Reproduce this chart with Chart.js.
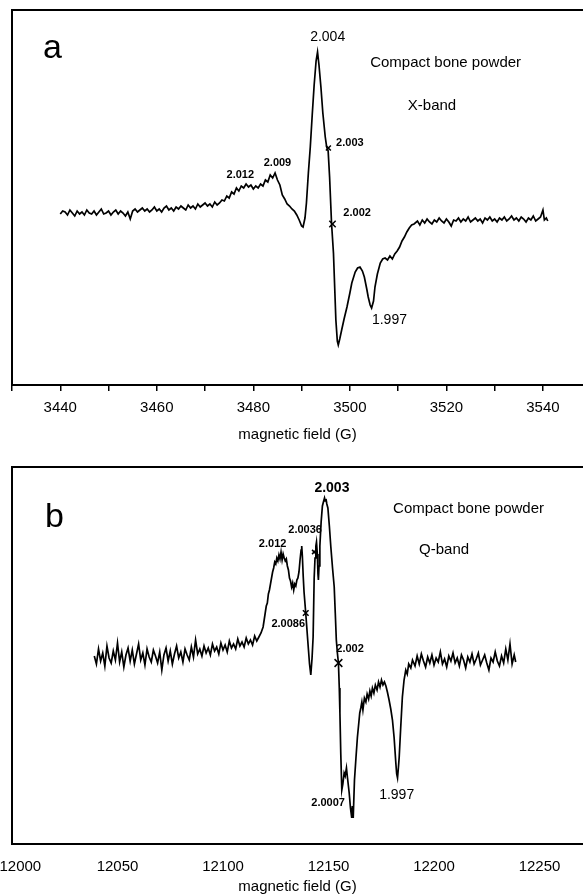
<!DOCTYPE html>
<html>
<head>
<meta charset="utf-8">
<script src="https://cdn.jsdelivr.net/npm/chart.js@4.4.1/dist/chart.umd.min.js"></script>
<style>
  html, body { margin: 0; padding: 0; background: #fff; overflow: hidden; }
  canvas { display: block; }
</style>
</head>
<body>
<canvas id="chartA" width="583" height="444"></canvas>
<canvas id="chartB" width="583" height="450"></canvas>
<script>
// Panel a: X-band spectrum (field in G, derivative signal in arbitrary units)
const fieldA = [
  3440,3440.5,
  3441,3441.5,3442,3442.5,3443,3443.5,3444,3444.5,3445,3445.5,
  3446,3446.5,3447,3447.5,3448,3448.5,3449,3449.5,3450,3450.5,
  3451,3451.5,3452,3452.5,3453,3453.5,3454,3454.5,3455,3455.5,
  3456,3456.5,3457,3457.5,3458,3458.5,3459,3459.5,3460,3460.5,
  3461,3461.5,3462,3462.5,3463,3463.5,3464,3464.5,3465,3465.5,
  3466,3466.5,3467,3467.5,3468,3468.5,3469,3469.5,3470,3470.5,
  3471,3471.5,3472,3472.5,3473,3473.5,3474,3474.5,3475,3475.5,
  3476,3476.5,3477,3477.5,3478,3478.5,3479,3479.5,3480,3480.5,
  3481,3481.5,3482,3482.5,3483,3483.5,3484,3484.5,3485,3485.5,
  3486,3486.5,3487,3487.5,3488,3488.5,3489,3489.5,3490,3490.3,
  3490.7,3491,3491.4,3491.8,3492.2,3492.6,3493,3493.3,3493.6,3494,
  3494.4,3494.9,3495.2,3495.5,3495.8,3496.2,3496.6,3497.1,3497.4,3497.6,
  3497.9,3498.3,3498.8,3499.4,3500,3500.4,3501.1,3501.6,3502.1,3502.6,
  3503,3503.5,3503.8,3504.2,3504.5,3504.9,3505.2,3505.7,3506.3,3506.8,
  3507.3,3507.8,3508.3,3508.8,3509.3,3509.8,3510.3,3510.8,3511.3,3511.8,
  3512.3,3512.8,3513.3,3514,3514.5,3515,3515.5,3516,3516.5,3517,
  3517.5,3518,3518.5,3519,3519.5,3520,3520.5,3521,3521.5,3522,
  3522.5,3523,3523.5,3524,3524.5,3525,3525.5,3526,3526.5,3527,
  3527.5,3528,3528.5,3529,3529.5,3530,3530.5,3531,3531.5,3532,
  3532.5,3533,3533.5,3534,3534.5,3535,3535.5,3536,3536.5,3537,
  3537.5,3538,3538.5,3539,3539.5,3540,3540.3,3540.7,3541
];
const signalA = [
  -1,2,
  1,-2,3,0,-3,2,-1,1,-2,3,
  0,-1,2,-2,1,4,-1,0,2,-2,
  1,3,-1,2,0,-3,1,-6,2,4,
  1,3,5,2,4,1,3,6,2,4,
  1,5,7,3,5,2,6,4,7,5,
  3,8,5,7,4,9,6,8,10,7,
  9,6,11,8,10,13,12,17,15,21,
  19,25,22,27,25,29,26,28,24,27,
  25,29,27,33,31,38,35,40,33,28,
  18,14,9,7,4,2,-2,-7,-13,-14,
  -5,10,40,66,98,128,152,161,148,126,
  100,76,66,62,36,-10,-40,-107,-128,-132,
  -126,-117,-106,-94,-80,-70,-59,-55,-54,-58,
  -64,-76,-84,-92,-95,-88,-74,-61,-50,-46,
  -45,-47,-43,-46,-41,-38,-34,-28,-24,-19,
  -15,-12,-11,-8,-12,-7,-10,-6,-9,-11,
  -7,-9,-5,-8,-10,-6,-9,-13,-7,-8,
  -5,-9,-6,-8,-4,-9,-7,-5,-8,-6,
  -10,-5,-7,-4,-8,-6,-9,-5,-7,-4,
  -8,-6,-3,-7,-5,-8,-4,-6,-9,-5,
  -7,-3,-8,-6,-4,3,-7,-5,-8
];
const markFieldA = [3495.55, 3496.4];
const markSignalA = [65, -11];

// Panel b: Q-band spectrum
const fieldB = [
  12039,12040,12041,12042,12043,12044,12045,12046,12047,12048,
  12049,12050,12051,12052,12053,12054,12055,12056,12057,12058,
  12059,12060,12061,12062,12063,12064,12065,12066,12067,12068,
  12069,12070,12071,12072,12073,12074,12075,12076,12077,12078,
  12079,12080,12081,12082,12083,12084,12085,12086,12087,12088,
  12089,12090,12091,12092,12093,12094,12095,12096,12097,12098,
  12099,12100,12101,12102,12103,12104,12105,12106,12107,12108,
  12109,12110,12111,12112,12113,12114,12115,12116,12117,12118,
  12119,12119.5,12120,12120.5,12121,12121.5,12122,12122.5,12123,12123.5,
  12124,12124.5,12125,12125.5,12126,12126.5,12127,12127.5,12128,12128.5,
  12129,12129.5,12130,12130.5,12131,12131.5,12132,12132.5,12133,12133.5,
  12134,12134.5,12135,12135.5,12136,12136.5,12137,12137.3,12137.6,12138,
  12138.4,12139.2,12140,12140.5,12141,12141.6,12142.2,12142.7,12143.2,12143.6,
  12144,12144.3,12144.7,12145,12145.2,12145.5,12145.9,12146.5,12147.1,12147.7,
  12148.1,12148.4,12148.8,12149.2,12149.7,12150.4,12151.1,12151.9,12152.7,12153.2,
  12153.7,12154.2,12154.7,12155.1,12155.4,12155.8,12156.3,12156.8,12157.4,12157.9,
  12158.5,12159,12159.8,12160.4,12161,12161.3,12161.7,12162.3,12163,12163.7,
  12164.3,12164.8,12165.3,12165.8,12166.3,12167,12167.7,12168.3,12169,12169.6,
  12170.2,12170.8,12171.5,12172.2,12173,12173.7,12174.4,12175.1,12175.8,12176.5,
  12177.2,12177.9,12178.7,12179.5,12180.3,12181.1,12181.9,12182.3,12182.7,12183.1,
  12183.5,12184.2,12185,12185.8,12186.6,12187.3,12188,12189,12189.8,12191,
  12192,12193,12194,12195,12196,12197,12198,12199,12200,12201,
  12202,12203,12204,12205,12206,12207,12208,12209,12210,12211,
  12212,12213,12214,12215,12216,12217,12218,12219,12220,12221,
  12222,12223,12224,12225,12226,12227,12228,12229,12230,12231,
  12232,12233,12234,12235,12236,12237,12238,12238.7
];
const signalB = [
  2,-6,9,-3,5,-8,12,0,-5,7,
  -2,15,-4,6,-9,3,10,-3,8,-6,
  4,14,-2,5,-7,9,1,-4,8,2,
  -5,6,-12,3,10,-3,7,-6,4,12,
  0,6,-4,9,3,-2,11,1,18,4,
  9,2,12,5,10,3,14,7,11,4,
  15,8,13,6,17,10,14,9,19,12,
  16,11,20,14,18,13,22,17,21,25,
  31,38,45,52,55,64,68,74,80,86,
  90,96,94,100,97,103,99,106,98,104,
  100,97,99,92,88,80,77,71,75,68,
  74,72,78,80,86,98,108,112,102,82,
  66,45,22,8,-6,-17,0,21,80,100,
  112,116,104,84,78,92,112,136,152,157,
  160,157,159,154,150,132,111,90,71,45,
  18,5,-5,-30,-55,-95,-132,-126,-115,-118,
  -110,-120,-135,-150,-160,-148,-160,-122,-100,-79,
  -66,-55,-50,-44,-52,-40,-44,-36,-41,-33,
  -38,-30,-35,-27,-32,-24,-29,-22,-27,-24,
  -28,-34,-42,-51,-62,-80,-105,-116,-120,-110,
  -99,-70,-39,-22,-12,-16,-6,-10,-2,-8,
  2,-6,4,-3,-9,1,-5,3,-7,0,
  -4,6,-6,-1,-9,2,-3,5,-5,0,
  -8,3,-2,-10,1,-4,4,-6,-1,5,
  -7,-2,3,-5,-12,0,-4,6,-3,-8,
  2,-5,9,-2,14,-6,3,-4
];
const markFieldB = [12143.2, 12139.2, 12154.7];
const markSignalB = [106, 45, -5];

const FONT = '"Liberation Sans", Arial, Helvetica, sans-serif';
Chart.defaults.font.family = FONT;
Chart.defaults.color = '#000';

const small = 'bold 11px ' + FONT;
const mid = '14px ' + FONT;
const big = '15px ' + FONT;

// g-value labels, placed in data coordinates
const notesA = [
  { text: '2.004', at: [3495.4, 176], font: mid },
  { text: '2.003', at: [3500.0, 70], font: small },
  { text: '2.009', at: [3485.0, 50], font: small },
  { text: '2.012', at: [3477.3, 38], font: small },
  { text: '2.002', at: [3501.5, 0], font: small },
  { text: '1.997', at: [3508.2, -107], font: mid },
  { text: 'Compact bone powder', at: [3504.2, 150], font: big, align: 'left' },
  { text: 'X-band', at: [3512.0, 107], font: big, align: 'left' }
];
const notesB = [
  { text: '2.003', at: [12151.6, 170], font: 'bold 14px ' + FONT },
  { text: '2.0036', at: [12138.9, 128], font: small },
  { text: '2.012', at: [12123.5, 114], font: small },
  { text: '2.0086', at: [12130.9, 34], font: small },
  { text: '2.002', at: [12160.2, 9], font: small },
  { text: '2.0007', at: [12149.8, -145], font: small },
  { text: '1.997', at: [12182.3, -137], font: mid },
  { text: 'Compact bone powder', at: [12180.6, 149], font: big, align: 'left' },
  { text: 'Q-band', at: [12192.9, 108], font: big, align: 'left' }
];

function framePlugin(notes, letter, lx, ly) {
  return {
    id: 'frame' + letter,
    afterDraw(chart) {
      const { ctx, chartArea: a, scales: { x, y } } = chart;
      ctx.save();
      ctx.strokeStyle = '#000';
      ctx.lineWidth = 2;
      ctx.beginPath();
      ctx.moveTo(a.left, a.bottom);
      ctx.lineTo(a.left, a.top);
      ctx.lineTo(a.right + 2, a.top);
      ctx.stroke();
      ctx.fillStyle = '#000';
      ctx.textBaseline = 'middle';
      notes.forEach(n => {
        ctx.font = n.font;
        ctx.textAlign = n.align || 'center';
        ctx.fillText(n.text, x.getPixelForValue(n.at[0]), y.getPixelForValue(n.at[1]));
      });
      ctx.font = '34px ' + FONT;
      ctx.textAlign = 'left';
      ctx.textBaseline = 'alphabetic';
      ctx.fillText(letter, a.left + lx, a.top + ly);
      ctx.restore();
    }
  };
}

function makeChart(id, o) {
  return new Chart(document.getElementById(id), {
    type: 'line',
    data: {
      datasets: [
        {
          data: o.field.map((f, i) => ({ x: f, y: o.signal[i] })),
          borderColor: '#000',
          borderWidth: 1.7,
          pointRadius: 0,
          tension: 0
        },
        {
          data: o.markField.map((f, i) => ({ x: f, y: o.markSignal[i] })),
          showLine: false,
          pointStyle: 'crossRot',
          pointRadius: o.markSize,
          borderColor: '#000',
          borderWidth: 1.5
        }
      ]
    },
    options: {
      responsive: false,
      animation: false,
      devicePixelRatio: 1,
      layout: { autoPadding: false, padding: { top: o.top, left: 12, right: 0, bottom: 0 } },
      plugins: { legend: { display: false }, tooltip: { enabled: false } },
      scales: {
        x: {
          type: 'linear',
          min: o.xMin,
          max: o.xMax,
          afterFit(scale) {
            scale.paddingLeft = 0;
            scale.paddingRight = 0;
            scale.height = o.axisH;
          },
          border: { display: true, color: '#000', width: 2 },
          grid: {
            drawOnChartArea: false,
            drawTicks: o.tickLen > 0,
            tickLength: o.tickLen,
            color: '#000',
            lineWidth: 1.5
          },
          ticks: {
            stepSize: o.step,
            includeBounds: false,
            autoSkip: false,
            maxRotation: 0,
            padding: o.tickPad,
            font: { size: 15 },
            callback: v => {
              if (v % o.labelEvery !== 0) return '';
              // first label sits on the frame edge; nudge it inside like the original
              return v === o.xMin ? '    ' + v : String(v);
            }
          },
          title: {
            display: true,
            text: 'magnetic field (G)',
            font: { size: 15 },
            padding: { top: 0, bottom: o.titlePad }
          }
        },
        y: { type: 'linear', display: false, min: o.yMin, max: o.yMax }
      }
    },
    plugins: [framePlugin(o.notes, o.letter, o.lx, o.ly)]
  });
}

makeChart('chartA', {
  field: fieldA, signal: signalA,
  markField: markFieldA, markSignal: markSignalA, markSize: [3.5, 4.5],
  xMin: 3430, xMax: 3548.3, yMin: -172, yMax: 203,
  step: 10, labelEvery: 20, tickLen: 6, tickPad: 8,
  top: 10, axisH: 59, titlePad: 0,
  notes: notesA, letter: 'a', lx: 31, ly: 48
});

makeChart('chartB', {
  field: fieldB, signal: signalB,
  markField: markFieldB, markSignal: markSignalB, markSize: [3, 4, 5.5],
  xMin: 12000, xMax: 12270.6, yMin: -186, yMax: 191,
  step: 50, labelEvery: 50, tickLen: 0, tickPad: 14,
  top: 23, axisH: 50, titlePad: -2,
  notes: notesB, letter: 'b', lx: 33, ly: 60
});
</script>
</body>
</html>
